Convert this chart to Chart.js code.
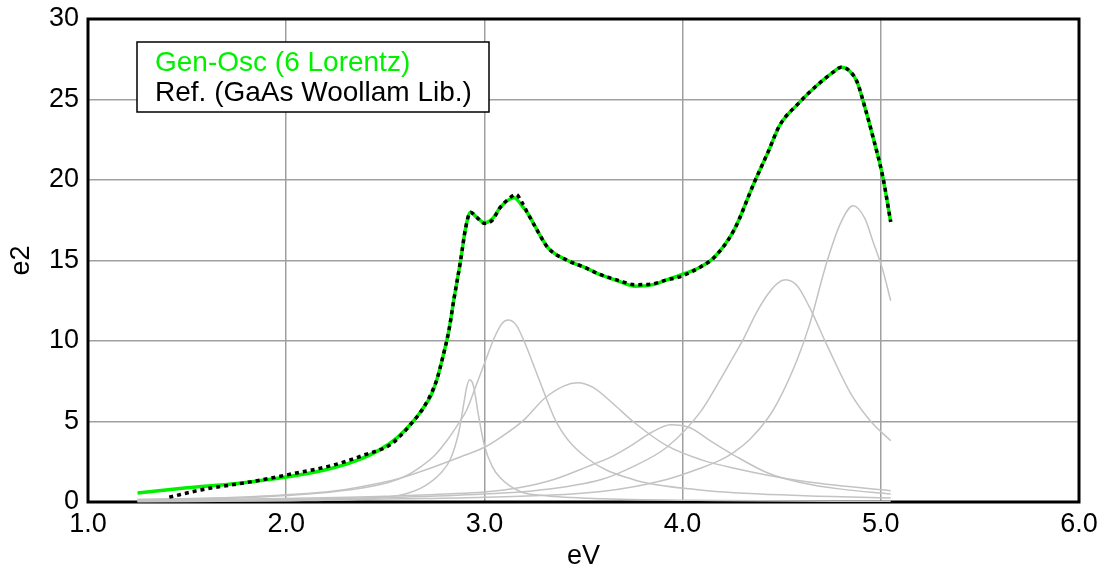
<!DOCTYPE html>
<html>
<head>
<meta charset="utf-8">
<script src="https://cdn.jsdelivr.net/npm/chart.js@4/dist/chart.umd.min.js"></script>
<style>
  html, body { margin: 0; padding: 0; background: #fff; }
  #wrap { width: 1110px; height: 579px; }
</style>
</head>
<body>
<div id="wrap"><canvas id="myChart" width="1110" height="579"></canvas></div>
<script>
// axis ticks
var x_ticks = [1.0, 2.0, 3.0, 4.0, 5.0, 6.0];
var y_ticks = [0, 5, 10, 15, 20, 25, 30];

// Gen-Osc fit (green)
var fit_eV = [1.25, 1.5, 1.75, 2.0, 2.2, 2.35, 2.48, 2.56, 2.64, 2.7, 2.73, 2.76, 2.79, 2.82, 2.845, 2.88, 2.905, 2.93, 2.96, 3.0, 3.04, 3.08, 3.12, 3.15, 3.19, 3.22, 3.27, 3.32, 3.42, 3.5, 3.59, 3.68, 3.76, 3.85, 3.92, 3.99, 4.09, 4.16, 4.26, 4.36, 4.43, 4.49, 4.58, 4.68, 4.76, 4.80, 4.84, 4.88, 4.92, 4.96, 5.01, 5.05];
var fit_e2 = [0.56, 0.88, 1.15, 1.55, 2.0, 2.55, 3.3, 4.0, 5.0, 6.0, 6.6, 7.6, 9.0, 10.6, 12.5, 15.0, 17.0, 18.0, 17.7, 17.35, 17.6, 18.3, 18.75, 18.9, 18.4, 17.9, 16.8, 15.8, 15.0, 14.6, 14.1, 13.7, 13.4, 13.5, 13.8, 14.1, 14.6, 15.2, 16.9, 19.8, 21.7, 23.4, 24.7, 25.9, 26.7, 27.0, 26.8, 26.1, 24.5, 22.7, 20.2, 17.4];

// reference data (black dotted)
var ref_eV = [1.41, 1.57, 1.82, 2.01, 2.24, 2.4, 2.53, 2.64, 2.7, 2.76, 2.79, 2.82, 2.845, 2.88, 2.905, 2.93, 2.96, 3.0, 3.04, 3.08, 3.12, 3.16, 3.19, 3.22, 3.27, 3.32, 3.42, 3.5, 3.59, 3.68, 3.76, 3.85, 3.92, 3.99, 4.09, 4.16, 4.26, 4.36, 4.43, 4.49, 4.58, 4.68, 4.76, 4.80, 4.84, 4.88, 4.92, 4.96, 5.01, 5.05];
var ref_e2 = [0.3, 0.75, 1.25, 1.7, 2.3, 2.95, 3.6, 5.0, 6.0, 7.6, 9.0, 10.6, 12.5, 15.0, 17.0, 18.0, 17.7, 17.3, 17.5, 18.3, 18.8, 19.1, 18.6, 17.9, 16.8, 15.8, 15.0, 14.6, 14.1, 13.75, 13.5, 13.55, 13.8, 14.0, 14.6, 15.2, 16.9, 19.8, 21.7, 23.4, 24.7, 25.9, 26.7, 27.0, 26.8, 26.1, 24.5, 22.7, 20.2, 17.4];

// the 6 Lorentz oscillators (gray)
var osc1_eV = [1.25, 2.0, 2.4, 2.6, 2.7, 2.78, 2.83, 2.87, 2.9, 2.91, 2.925, 2.94, 2.95, 2.97, 3.0, 3.04, 3.08, 3.18, 3.3, 3.6, 4.2, 5.05];
var osc1_e2 = [0.02, 0.08, 0.2, 0.5, 1.0, 1.8, 2.7, 4.3, 6.4, 7.1, 7.6, 7.4, 6.9, 5.4, 3.5, 2.2, 1.5, 0.65, 0.4, 0.2, 0.09, 0.04];
var osc2_eV = [1.25, 1.75, 2.0, 2.25, 2.48, 2.6, 2.68, 2.75, 2.81, 2.86, 2.91, 2.96, 3.0, 3.05, 3.09, 3.12, 3.16, 3.2, 3.27, 3.37, 3.52, 3.75, 4.09, 4.59, 5.05];
var osc2_e2 = [0.15, 0.25, 0.4, 0.65, 1.1, 1.6, 2.2, 2.9, 3.8, 4.7, 5.7, 7.3, 8.6, 10.2, 11.1, 11.3, 11.0, 10.0, 7.8, 4.8, 2.7, 1.4, 0.75, 0.4, 0.25];
var osc3_eV = [1.25, 1.75, 2.0, 2.25, 2.48, 2.58, 2.75, 2.9, 3.0, 3.08, 3.2, 3.3, 3.4, 3.47, 3.55, 3.65, 3.75, 3.92, 4.1, 4.26, 4.6, 5.05];
var osc3_e2 = [0.15, 0.3, 0.45, 0.7, 1.2, 1.5, 2.2, 2.9, 3.4, 4.0, 5.1, 6.4, 7.2, 7.4, 7.1, 6.1, 5.0, 3.5, 2.6, 2.1, 1.3, 0.7];
var osc4_eV = [1.25, 2.0, 2.5, 2.8, 3.0, 3.18, 3.35, 3.52, 3.64, 3.74, 3.84, 3.94, 4.04, 4.14, 4.26, 4.43, 4.6, 4.8, 5.05];
var osc4_e2 = [0.1, 0.22, 0.35, 0.5, 0.62, 0.9, 1.4, 2.2, 2.8, 3.5, 4.3, 4.8, 4.6, 3.8, 2.9, 1.8, 1.2, 0.8, 0.5];
var osc5_eV = [1.25, 2.0, 2.58, 3.0, 3.25, 3.59, 3.75, 3.92, 4.09, 4.19, 4.26, 4.31, 4.37, 4.43, 4.48, 4.52, 4.58, 4.64, 4.73, 4.85, 4.95, 5.05];
var osc5_e2 = [0.05, 0.15, 0.3, 0.5, 0.7, 1.4, 2.2, 3.4, 5.6, 7.6, 9.1, 10.2, 11.7, 12.9, 13.6, 13.8, 13.4, 12.1, 9.7, 6.7, 5.0, 3.8];
var osc6_eV = [1.25, 2.0, 2.58, 3.0, 3.59, 3.92, 4.09, 4.19, 4.26, 4.34, 4.43, 4.48, 4.58, 4.64, 4.73, 4.8, 4.86, 4.92, 4.96, 5.01, 5.05];
var osc6_e2 = [0.05, 0.1, 0.2, 0.3, 0.65, 1.4, 2.1, 2.6, 3.1, 3.9, 5.2, 6.2, 8.9, 11.0, 15.0, 17.4, 18.4, 17.6, 16.2, 14.4, 12.5];

var font_name = "'Liberation Sans', Arial, sans-serif";
var tick_size = 27;
var legend_size = 28;
var green = 'rgb(0, 240, 0)';
var gray_line = 'rgb(195, 195, 195)';

function to_points(xs, ys) {
    var pts = [];
    for (let i = 0; i < xs.length; i++) {
        pts.push({x: xs[i], y: ys[i]});
    }
    return pts;
}

function make_datasets() {
    var dts = [];
    dts.push({
        label: 'Ref. (GaAs Woollam Lib.)',
        data: to_points(ref_eV, ref_e2),
        borderColor: '#000',
        borderWidth: 3.5,
        borderDash: [4, 4],
        order: 0
    });
    dts.push({
        label: 'Gen-Osc (6 Lorentz)',
        data: to_points(fit_eV, fit_e2),
        borderColor: green,
        borderWidth: 3.5,
        order: 1
    });
    var oscs = [[osc1_eV, osc1_e2], [osc2_eV, osc2_e2], [osc3_eV, osc3_e2],
                [osc4_eV, osc4_e2], [osc5_eV, osc5_e2], [osc6_eV, osc6_e2]];
    for (let i = 0; i < oscs.length; i++) {
        dts.push({
            label: 'osc' + (i + 1),
            data: to_points(oscs[i][0], oscs[i][1]),
            borderColor: gray_line,
            borderWidth: 1.5,
            order: 2 + i
        });
    }
    dts.forEach(function (d) {
        d.showLine = true;
        d.pointRadius = 0;
        d.fill = false;
        d.cubicInterpolationMode = 'monotone';
        d.clip = 4;
    });
    return dts;
}

// black frame around the plot area, drawn under the curves
var framePlugin = {
    id: 'frame',
    beforeDatasetsDraw: function (chart) {
        var a = chart.chartArea, ctx = chart.ctx;
        ctx.save();
        ctx.strokeStyle = '#000';
        ctx.lineWidth = 3;
        ctx.strokeRect(a.left, a.top, a.right - a.left, a.bottom - a.top);
        ctx.restore();
    }
};

// boxed legend in the upper left
var legendBox = {
    id: 'legendBox',
    afterDraw: function (chart) {
        var a = chart.chartArea, ctx = chart.ctx;
        var x = a.left + 49, y = 42, w = 352, h = 70;
        ctx.save();
        ctx.fillStyle = '#fff';
        ctx.fillRect(x, y, w, h);
        ctx.strokeStyle = '#000';
        ctx.lineWidth = 1.5;
        ctx.strokeRect(x, y, w, h);
        ctx.font = legend_size + 'px ' + font_name;
        ctx.textBaseline = 'middle';
        ctx.fillStyle = green;
        ctx.fillText('Gen-Osc (6 Lorentz)', x + 18, y + 21);
        ctx.fillStyle = '#000';
        ctx.fillText('Ref. (GaAs Woollam Lib.)', x + 18, y + 51);
        ctx.restore();
    }
};

function chart_e2() {
    var ctx = document.getElementById('myChart').getContext('2d');
    var chartConfig = {
        type: 'scatter',
        data: { datasets: make_datasets() },
        options: {
            responsive: false,
            animation: false,
            layout: { padding: { top: 19, right: 31, left: 0, bottom: 0 } },
            scales: {
                x: {
                    type: 'linear',
                    min: 1, max: 6,
                    afterBuildTicks: function (s) { s.ticks = x_ticks.map(v => ({value: v})); },
                    afterFit: function (s) { s.height = 77; },
                    grid: { color: 'rgb(160,160,160)', lineWidth: 1.5, drawTicks: false },
                    border: { display: false },
                    ticks: {
                        color: '#000',
                        padding: 6,
                        font: { family: font_name, size: tick_size },
                        callback: function (v) { return v.toFixed(1); }
                    },
                    title: {
                        display: true, text: 'eV', color: '#000',
                        font: { family: font_name, size: tick_size },
                        padding: { top: 0, bottom: 6 }
                    }
                },
                y: {
                    type: 'linear',
                    min: 0, max: 30,
                    afterBuildTicks: function (s) { s.ticks = y_ticks.map(v => ({value: v})); },
                    afterFit: function (s) {
                        s.width = 88;
                        s.paddingTop = 0;
                        s.paddingBottom = 0;
                    },
                    grid: { color: 'rgb(160,160,160)', lineWidth: 1.5, drawTicks: false },
                    border: { display: false },
                    ticks: {
                        color: '#000',
                        padding: 9,
                        font: { family: font_name, size: tick_size }
                    },
                    title: {
                        display: true, text: 'e2', color: '#000',
                        font: { family: font_name, size: tick_size },
                        padding: { top: 5, bottom: 0 }
                    }
                }
            },
            plugins: {
                legend: { display: false },
                tooltip: { enabled: false }
            }
        },
        plugins: [framePlugin, legendBox]
    };
    return new Chart(ctx, chartConfig);
}

var chart = chart_e2();
</script>
</body>
</html>
